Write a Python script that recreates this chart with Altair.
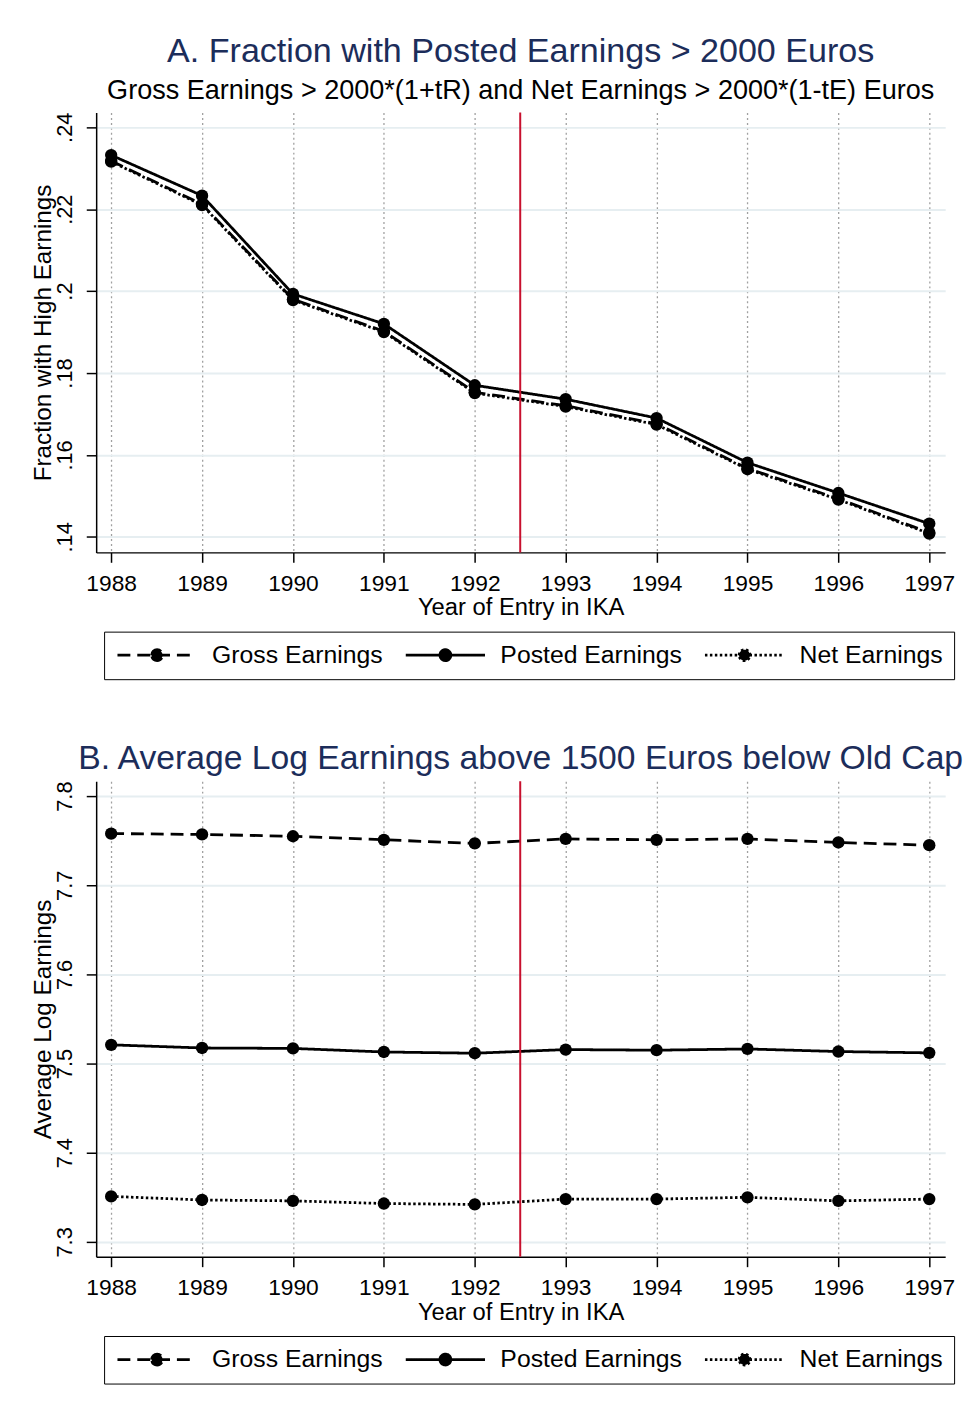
import altair as alt
import pandas as pd

# ---------------- data ----------------
years = [1988, 1989, 1990, 1991, 1992, 1993, 1994, 1995, 1996, 1997]
series = ["Gross Earnings", "Posted Earnings", "Net Earnings"]

frac_gross = [0.2318, 0.2212, 0.1980, 0.1902, 0.1753, 0.1720, 0.1676, 0.1567, 0.1493, 0.1410]
frac_posted = [0.2332, 0.2233, 0.1993, 0.1920, 0.1770, 0.1736, 0.1690, 0.1581, 0.1507, 0.1432]
frac_net = [0.2316, 0.2210, 0.1978, 0.1900, 0.1751, 0.1718, 0.1674, 0.1565, 0.1491, 0.1408]

log_gross = [7.758, 7.757, 7.755, 7.751, 7.747, 7.752, 7.751, 7.752, 7.748, 7.745]
log_posted = [7.521, 7.5175, 7.517, 7.513, 7.5116, 7.5157, 7.515, 7.5164, 7.5135, 7.512]
log_net = [7.351, 7.347, 7.346, 7.343, 7.342, 7.348, 7.348, 7.350, 7.346, 7.348]

reform_year = [1992.5]
frac_ticks = [0.14, 0.16, 0.18, 0.20, 0.22, 0.24]
log_ticks = [7.3, 7.4, 7.5, 7.6, 7.7, 7.8]

title_a = "A. Fraction with Posted Earnings > 2000 Euros"
subtitle_a = "Gross Earnings > 2000*(1+tR) and Net Earnings > 2000*(1-tE) Euros"
title_b = "B. Average Log Earnings above 1500 Euros below Old Cap"
ytitle_a = "Fraction with High Earnings"
ytitle_b = "Average Log Earnings"
xtitle = "Year of Entry in IKA"

FONT = "Liberation Sans"
NAVY = "#1c2d5a"
RED = "#c8102e"

LEGEND_PATH = "M-1,0L7,0M2.45,0A0.55,0.55,0,1,1,3.55,0A0.55,0.55,0,1,1,2.45,0Z"


def long_df(g, p, n):
    rows = []
    for name, vals in zip(series, [g, p, n]):
        for yr, v in zip(years, vals):
            rows.append({"year": yr, "value": v, "series": name})
    return pd.DataFrame(rows)


def panel(df, ticks, ydomain, ytitle, height, label_expr, legend_y, title):
    xenc = alt.X(
        "year:Q",
        scale=alt.Scale(domain=[1987.835, 1997.175], nice=False, zero=False),
        axis=alt.Axis(
            values=years, format="d", title=xtitle, grid=True,
            gridDash=[2, 3], gridColor="#a0a0a0", gridWidth=1.3,
            labelFontSize=23, titleFontSize=24, labelPadding=10,
            titlePadding=1, tickSize=10, tickColor="black", tickWidth=1.5,
            domainColor="black", domainWidth=1.5, labelColor="black",
            titleColor="black", titleFontWeight="normal", labelFont=FONT,
            titleFont=FONT,
        ),
    )
    yenc = alt.Y(
        "value:Q",
        scale=alt.Scale(domain=ydomain, nice=False, zero=False),
        axis=alt.Axis(
            values=ticks, labelExpr=label_expr, title=ytitle, grid=True,
            gridColor="#e6eef1", gridWidth=2, labelAngle=270,
            labelAlign="center", labelBaseline="bottom",
            labelFontSize=22, titleFontSize=24.5, labelPadding=10,
            titlePadding=-2, tickSize=10, tickColor="black", tickWidth=1.5,
            domainColor="black", domainWidth=1.5, labelColor="black",
            titleColor="black", titleFontWeight="normal", labelFont=FONT,
            titleFont=FONT,
        ),
    )
    dash = alt.StrokeDash(
        "series:N",
        scale=alt.Scale(domain=series, range=[[13, 7], [1, 0], [2.5, 2.5]]),
        legend=alt.Legend(
            title=None, orient="none", legendX=8, legendY=legend_y,
            direction="horizontal", symbolType=LEGEND_PATH, symbolSize=400,
            symbolStrokeWidth=2.8, symbolStrokeColor="black",
            symbolFillColor="black", labelFontSize=25, labelFont=FONT,
            labelColor="black", labelOffset=73, columnPadding=16,
            padding=11, strokeColor="black", labelLimit=400,
        ),
    )
    base = alt.Chart(df)
    lines = base.mark_line(color="black", strokeWidth=2.8).encode(
        x=xenc, y=yenc, strokeDash=dash, detail="series:N",
        order="year:Q",
    )
    pts = base.mark_circle(color="black", size=155, opacity=1).encode(
        x="year:Q", y="value:Q", detail="series:N"
    )
    rule = alt.Chart(pd.DataFrame({"year": reform_year})).mark_rule(
        color=RED, strokeWidth=2
    ).encode(x="year:Q")
    return alt.layer(lines, pts, rule).properties(
        width=857, height=height, title=title
    )


df_a = long_df(frac_gross, frac_posted, frac_net)
df_b = long_df(log_gross, log_posted, log_net)

chart_a = panel(
    df_a, frac_ticks, [0.1362, 0.2436], ytitle_a, 444,
    "replace(format(datum.value, '.2~f'), '0.', '.')", 524,
    alt.Title(title_a, subtitle=subtitle_a, fontSize=34.4, color=NAVY,
              font=FONT, fontWeight="normal", subtitleFontSize=27.3,
              subtitleColor="black", subtitleFont=FONT, subtitlePadding=8,
              anchor="middle", offset=6),
)
chart_b = panel(
    df_b, log_ticks, [7.2833, 7.8167], ytitle_b, 480,
    "format(datum.value, '.1f')", 560,
    alt.Title(title_b, fontSize=34, color=NAVY, font=FONT,
              fontWeight="normal", anchor="middle", offset=4),
)

chart = alt.vconcat(chart_a, chart_b, spacing=63).resolve_scale(
    x="independent", y="independent", strokeDash="independent"
).resolve_legend(strokeDash="independent").properties(
    padding={"left": 23, "top": 20, "right": 0, "bottom": 0},
    background="white",
).configure_view(strokeWidth=0)

chart.save("out.html", embed_options={"renderer": "svg", "actions": False})
